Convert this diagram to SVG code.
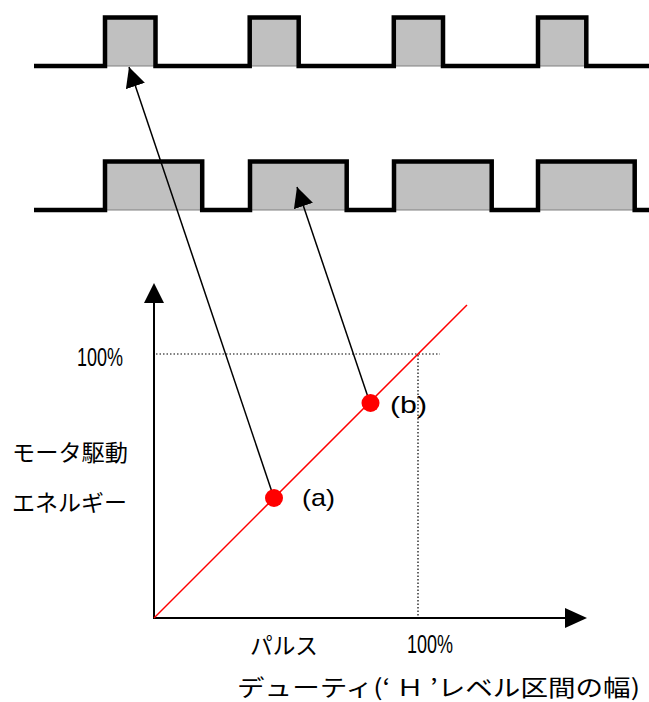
<svg xmlns="http://www.w3.org/2000/svg" width="649" height="702" viewBox="0 0 649 702">
  <style>
    .pulse { fill: #c0c0c0; stroke: #808080; stroke-width: 1; }
    .wave { fill: none; stroke: #000; stroke-width: 4.5; stroke-linejoin: miter; }
    .axis { fill: none; stroke: #000; stroke-width: 2; }
    .dot { fill: #ff0000; }
    .guide { fill: none; stroke: #000; stroke-width: 1.2; stroke-dasharray: 1.5 2; }
    .conn { fill: none; stroke: #000; stroke-width: 1.5; }
    .jp { font-family: "Noto Sans CJK JP", "Liberation Sans", sans-serif; font-size: 23px; fill: #000; }
    .lat { font-family: "Liberation Sans", Arial, sans-serif; font-size: 24px; fill: #000; }
    .num { font-family: "Liberation Sans", Arial, sans-serif; font-size: 25px; fill: #000; }
  </style>
  <defs>
    <marker id="ah" viewBox="0 0 20 20" refX="20" refY="10" markerWidth="20" markerHeight="20" markerUnits="userSpaceOnUse" orient="auto">
      <path d="M0,0 L20,10 L0,20 Z" fill="#000"/>
    </marker>
  </defs>
  <rect width="649" height="702" fill="#fff"/>

  <g id="wave-top">
    <rect class="pulse" x="105" y="17.5" width="50.5" height="48.5"/>
    <rect class="pulse" x="249.7" y="17.5" width="49" height="48.5"/>
    <rect class="pulse" x="393.8" y="17.5" width="49.2" height="48.5"/>
    <rect class="pulse" x="538" y="17.5" width="48.3" height="48.5"/>
    <path class="wave" d="M34,66 H105 V17.5 H155.5 V66 H249.7 V17.5 H298.7 V66 H393.8 V17.5 H443 V66 H538 V17.5 H586.3 V66 H649"/>
  </g>

  <g id="wave-bottom">
    <rect class="pulse" x="105" y="161.5" width="97.2" height="48.5"/>
    <rect class="pulse" x="250" y="161.5" width="96.7" height="48.5"/>
    <rect class="pulse" x="394" y="161.5" width="97.7" height="48.5"/>
    <rect class="pulse" x="538" y="161.5" width="96.7" height="48.5"/>
    <path class="wave" d="M34,210 H105 V161.5 H202.2 V210 H250 V161.5 H346.7 V210 H394 V161.5 H491.7 V210 H538 V161.5 H634.7 V210 H649"/>
  </g>

  <g id="graph-axes">
    <line class="axis" x1="154" y1="619" x2="154" y2="300"/>
    <path d="M154,283 L164,303 L144,303 Z" fill="#000"/>
    <line class="axis" x1="153" y1="618" x2="568" y2="618"/>
    <path d="M587,618 L565,608 L565,628 Z" fill="#000"/>
  </g>

  <g id="guides">
    <line class="guide" x1="156" y1="354" x2="440" y2="354"/>
    <line class="guide" x1="418" y1="355" x2="418" y2="617"/>
  </g>

  <g id="duty-line">
    <line x1="154" y1="618" x2="467" y2="305" stroke="#ff0000" stroke-width="1.5"/>
  </g>

  <g id="connectors">
    <line class="conn" x1="274" y1="498" x2="129" y2="67" marker-end="url(#ah)"/>
    <line class="conn" x1="370" y1="403" x2="297" y2="187" marker-end="url(#ah)"/>
  </g>

  <g id="point-a">
    <circle class="dot" cx="274" cy="498" r="9"/>
    <text class="lat" x="302" y="506" textLength="33" lengthAdjust="spacingAndGlyphs">(a)</text>
  </g>
  <g id="point-b">
    <circle class="dot" cx="370.5" cy="403" r="9"/>
    <text class="lat" x="390" y="413" textLength="37" lengthAdjust="spacingAndGlyphs">(b)</text>
  </g>

  <g id="labels">
    <text class="num" x="77" y="366" textLength="46" lengthAdjust="spacingAndGlyphs">100%</text>
    <text class="num" x="407" y="653" textLength="46" lengthAdjust="spacingAndGlyphs">100%</text>
    <text class="jp" x="12" y="461" textLength="116" lengthAdjust="spacingAndGlyphs">モータ駆動</text>
    <text class="jp" x="12" y="511" textLength="115" lengthAdjust="spacingAndGlyphs">エネルギー</text>
    <text class="jp" x="250" y="654" textLength="68" lengthAdjust="spacingAndGlyphs">パルス</text>
    <text class="jp" x="237" y="696" textLength="403" lengthAdjust="spacingAndGlyphs">デューティ(‘ Ｈ ’レベル区間の幅)</text>
  </g>
</svg>
